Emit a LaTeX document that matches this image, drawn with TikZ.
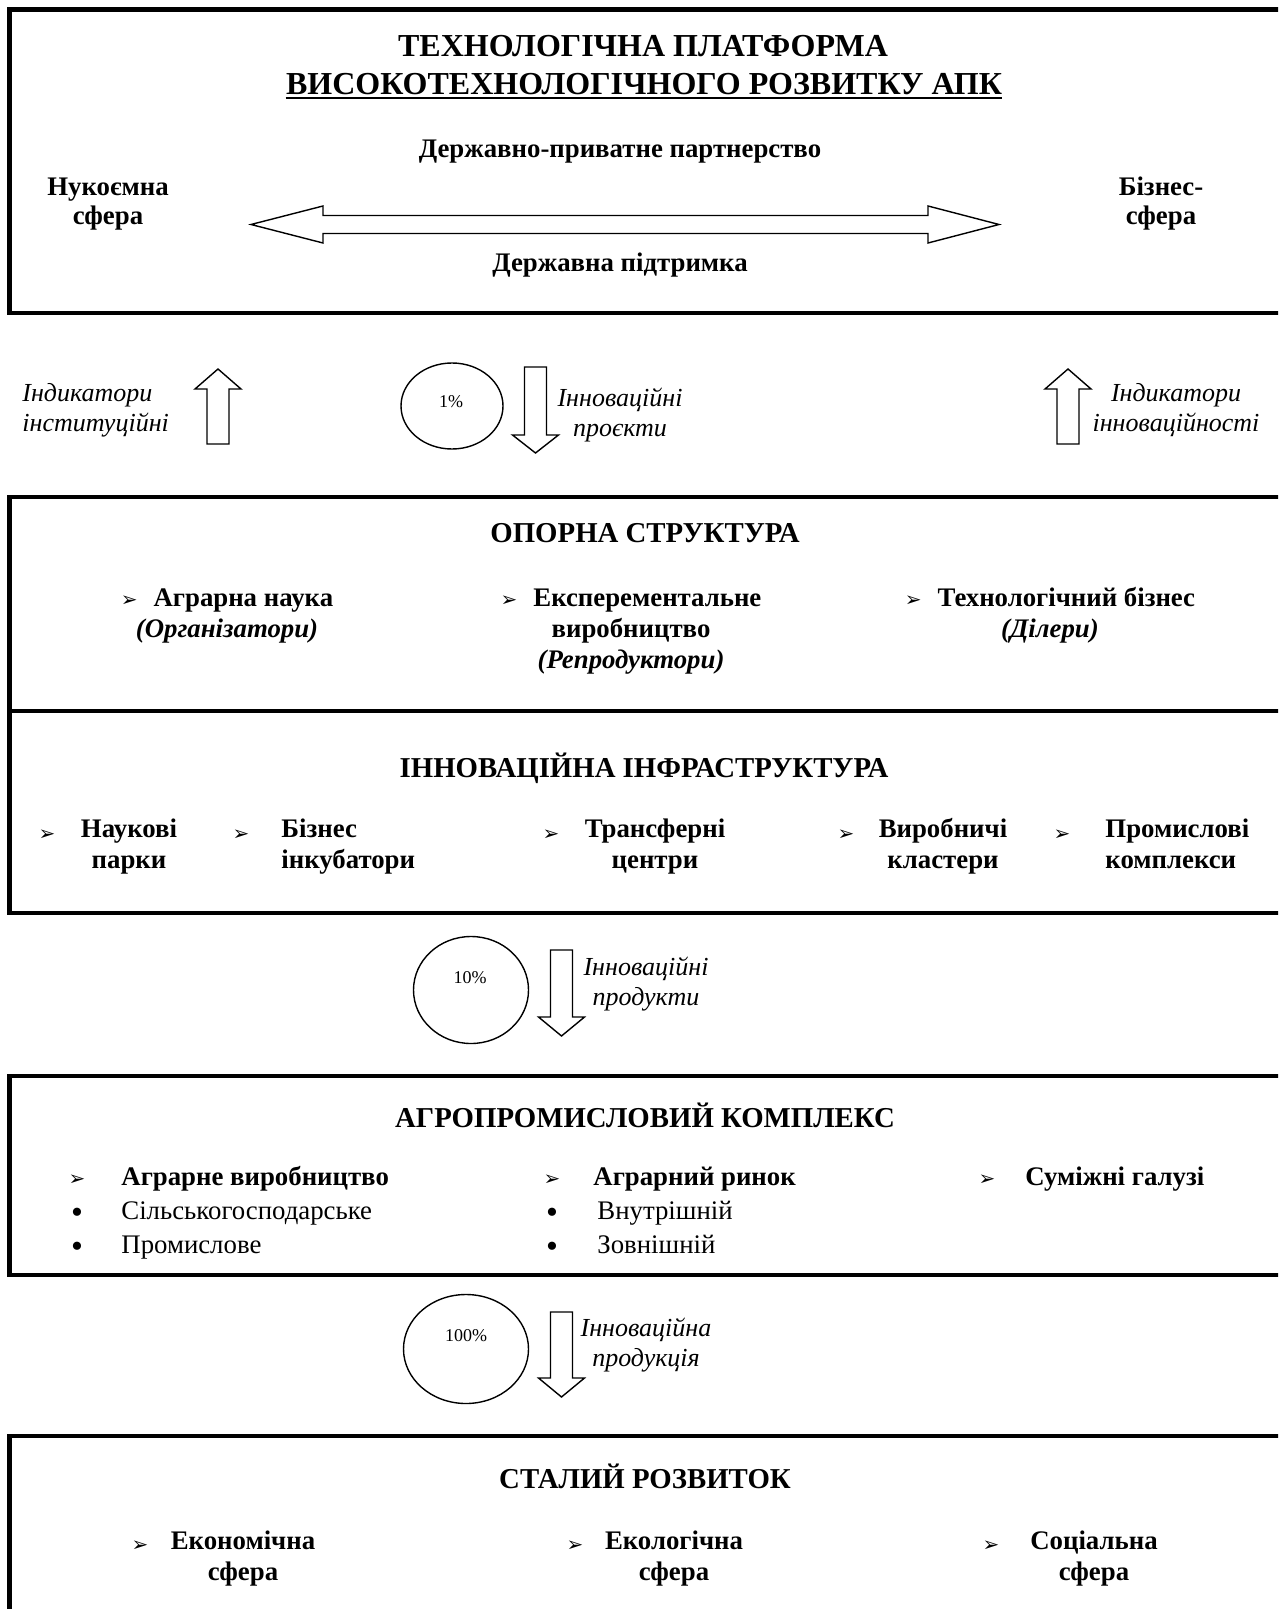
\documentclass[tikz,border=0pt]{standalone}
\usepackage{fontspec}
\setmainfont{Liberation Serif}
\newfontfamily\dingfont{DejaVu Sans}
\usetikzlibrary{shapes.geometric}
\tikzset{
  boxframe/.style={line width=2.3pt},
  blockarrow/.style={draw, line width=0.7pt, fill=white},
  headtext/.style={font=\fontsize{16}{18}\selectfont\bfseries, inner sep=0pt, anchor=base},
  secttext/.style={font=\fontsize{14.4}{16}\selectfont\bfseries, inner sep=0pt, anchor=base},
  itemtext/.style={font=\fontsize{13.4}{15.5}\selectfont\bfseries, inner sep=0pt, anchor=base, align=center},
  listtext/.style={font=\fontsize{13.4}{15.5}\selectfont, inner sep=0pt, anchor=base west},
  dottext/.style={font=\fontsize{17}{17}\selectfont, inner sep=0pt, anchor=base},
  flowtext/.style={font=\fontsize{13}{15}\selectfont\itshape, inner sep=0pt, anchor=base, align=center},
  sharebox/.style={draw, ellipse, line width=0.7pt, inner sep=0pt},
  pcttext/.style={font=\fontsize{9}{10}\selectfont, inner sep=0pt, anchor=base}
}
\newcommand\pointer{{\dingfont\fontsize{10}{10}\selectfont ➢}}
% vertical block arrow: x, tail y, head base y, tip y
\newcommand\vblock[4]{
  \draw[blockarrow] (#1-11,#2) -- (#1+11,#2) -- (#1+11,#3) -- (#1+23,#3)
    -- (#1,#4) -- (#1-23,#3) -- (#1-11,#3) -- cycle;
}
\begin{document}
\begin{tikzpicture}[x=0.5pt, y=-0.5pt]
  \useasboundingbox (0,0) rectangle (1278,1609);
  \fill[white] (0,0) rectangle (1278,1609);
  \clip (0,0) rectangle (1278,1609);

  % platform
  \draw[boxframe] (1290,9.5) -- (9.5,9.5) -- (9.5,313) -- (1290,313);
  \node[headtext] (tl1) at (643,57) {ТЕХНОЛОГІЧНА ПЛАТФОРМА};
  \node[headtext] (tl2) at (644,95) {ВИСОКОТЕХНОЛОГІЧНОГО РОЗВИТКУ АПК};
  \draw[line width=1pt] ([yshift=-1.6pt]tl2.base west) -- ([yshift=-1.6pt]tl2.base east);
  \node[itemtext] (ppp) at (620,158) {Державно-приватне партнерство};
  \node[itemtext, font=\fontsize{13.4}{14.5}\selectfont\bfseries] (sci) at (108,225) {Нукоємна\\сфера};
  \node[itemtext, font=\fontsize{13.4}{14.5}\selectfont\bfseries] (bus) at (1161,225) {Бізнес-\\сфера};
  \draw[blockarrow] (251,224.5) -- (323,206) -- (323,215.5) -- (928,215.5) -- (928,206)
    -- (999,224.5) -- (928,243) -- (928,233.5) -- (323,233.5) -- (323,243) -- cycle;
  \node[itemtext] (gov) at (620,272) {Державна підтримка};

  % first flow
  \node[flowtext, align=left, anchor=base west] (ind1) at (22,431) {Індикатори\\інституційні};
  \vblock{218}{444}{389}{369}
  \node[sharebox, minimum width=51pt, minimum height=43pt] (sh1) at (452,406) {};
  \node[pcttext] (pc1) at (451,408) {1\%};
  \vblock{535.5}{367}{435}{453}
  \node[flowtext] (fl1) at (620,437) {Інноваційні\\проєкти};
  \vblock{1068}{444}{389}{369}
  \node[flowtext] (ind2) at (1176,431) {Індикатори\\інноваційності};

  % support structure and infrastructure
  \draw[boxframe] (1290,497) -- (9.5,497) -- (9.5,913) -- (1290,913);
  \draw[boxframe] (9.5,711) -- (1290,711);
  \node[secttext] (os) at (645,542) {ОПОРНА СТРУКТУРА};
  \node[itemtext] (os1) at (227,637) {\pointer\hspace{8pt}Аграрна наука\\\textit{(Організатори)}};
  \node[itemtext] (os2) at (631,668) {\pointer\hspace{8pt}Експерементальне\\виробництво\\\textit{(Репродуктори)}};
  \node[itemtext] (os3) at (1050,637) {\pointer\hspace{8pt}Технологічний бізнес\\\textit{(Ділери)}};
  \node[secttext] (ii) at (644,777) {ІННОВАЦІЙНА ІНФРАСТРУКТУРА};
  \foreach \x [count=\i] in {47,241,551,846,1062}
    \node[itemtext] (ip\i) at (\x,840) {\pointer};
  \node[itemtext] (ii1) at (129,868) {Наукові\\парки};
  \node[itemtext, align=left, anchor=base west] (ii2) at (281,868) {Бізнес\\інкубатори};
  \node[itemtext] (ii3) at (655,868) {Трансферні\\центри};
  \node[itemtext] (ii4) at (943,868) {Виробничі\\кластери};
  \node[itemtext, align=left, anchor=base west] (ii5) at (1105,868) {Промислові\\комплекси};

  % second flow
  \node[sharebox, minimum width=57.5pt, minimum height=53.5pt] (sh2) at (471,990) {};
  \node[pcttext] (pc2) at (470,983) {10\%};
  \vblock{561.5}{950}{1017}{1036}
  \node[flowtext] (fl2) at (646,1005) {Інноваційні\\продукти};

  % agro-industrial complex
  \draw[boxframe] (1290,1076) -- (9.5,1076) -- (9.5,1275) -- (1290,1275);
  \node[secttext] (apk) at (645,1127) {АГРОПРОМИСЛОВИЙ КОМПЛЕКС};
  \foreach \x [count=\i] in {77,552,987}
    \node[itemtext] (ap\i) at (\x,1185) {\pointer};
  \node[itemtext, anchor=base west] (apa) at (121,1185) {Аграрне виробництво};
  \node[itemtext, anchor=base west] (apb) at (593,1185) {Аграрний ринок};
  \node[itemtext, anchor=base west] (apc) at (1025,1185) {Суміжні галузі};
  \foreach \x/\y [count=\i] in {77/1223,77/1257,552/1223,552/1257}
    \node[dottext] (bl\i) at (\x,\y) {\textbullet};
  \node[listtext] (apa1) at (121,1219) {Сільськогосподарське};
  \node[listtext] (apa2) at (121,1253) {Промислове};
  \node[listtext] (apb1) at (597,1219) {Внутрішній};
  \node[listtext] (apb2) at (597,1253) {Зовнішній};

  % third flow
  \node[sharebox, minimum width=62.5pt, minimum height=54.5pt] (sh3) at (466,1349) {};
  \node[pcttext] (pc3) at (466,1341) {100\%};
  \vblock{561.5}{1312}{1378}{1397}
  \node[flowtext] (fl3) at (646,1366) {Інноваційна\\продукція};

  % sustainable development
  \draw[boxframe] (1290,1436) -- (9.5,1436) -- (9.5,1620);
  \node[secttext] (st) at (645,1488) {СТАЛИЙ РОЗВИТОК};
  \foreach \x [count=\i] in {140,575,991}
    \node[itemtext] (sp\i) at (\x,1551) {\pointer};
  \node[itemtext] (st1) at (243,1580) {Економічна\\сфера};
  \node[itemtext] (st2) at (674,1580) {Екологічна\\сфера};
  \node[itemtext] (st3) at (1094,1580) {Соціальна\\сфера};
\end{tikzpicture}
\end{document}
